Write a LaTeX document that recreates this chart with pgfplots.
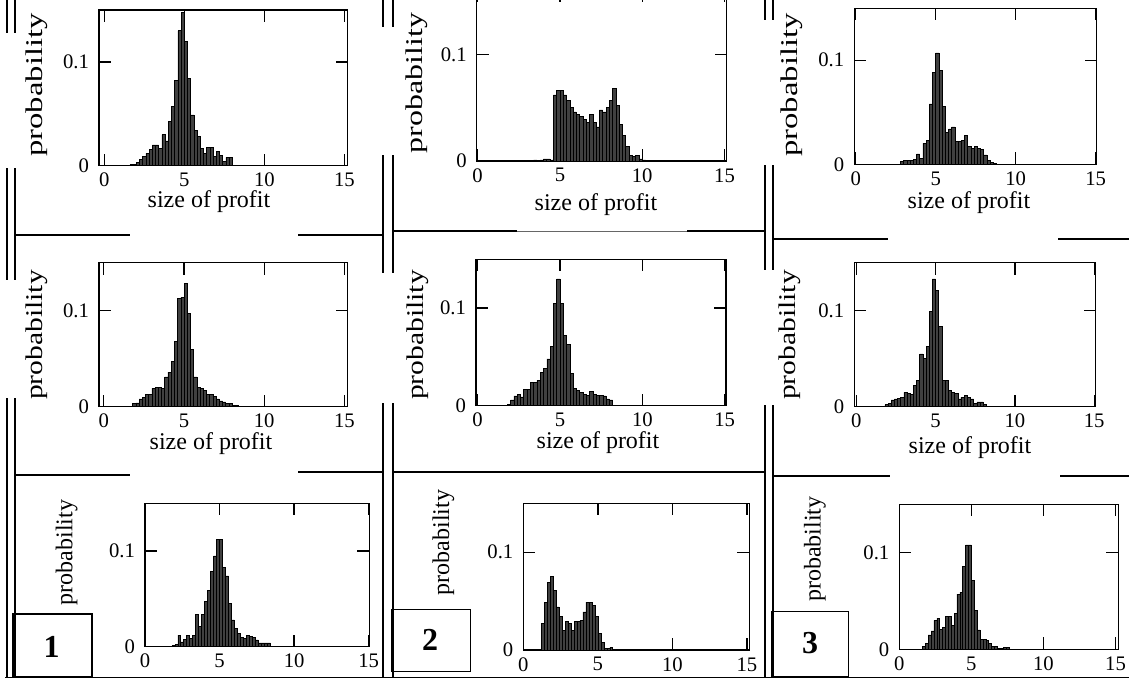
\documentclass[border=0pt]{standalone}
\usepackage{fontspec}
\setmainfont{Liberation Serif}
\usepackage{graphicx}
\usepackage{pgfplots}
\pgfplotsset{compat=1.18}

\pgfplotsset{
  hist/.style={
    scale only axis, anchor=south west,
    xtick={0,5,10,15}, ytick={0,0.1},
    ymin=0, ymax=0.15,
    tick align=inside, major tick length=9pt,
    axis line style={line width=1pt},
    every tick/.style={black, line width=1pt},
    tick label style={font=\fontsize{15.5}{15.5}\selectfont},
    /pgf/number format/assume math mode=true,
    xticklabel style={yshift=-2pt},
    yticklabel style={xshift=-4pt},
  },
  bars/.style={ybar interval, fill=black!75, draw=black, line width=0.45pt},
}
\tikzset{
  lab/.style={font=\fontsize{18}{18}\selectfont, inner sep=0pt},
  sep/.style={line width=2pt},
  dbl/.style={line width=1.2pt},
}

\begin{document}
\begin{tikzpicture}
% ---- row 1 ----
\begin{axis}[hist, at={(74.25pt,-124.3pt)}, width=186.5pt, height=116.8pt, xmin=-0.33, xmax=15.2]
\addplot[bars] coordinates {
(1.6,0.001) (1.8,0.001) (2.0,0.003) (2.2,0.006) (2.4,0.009) (2.6,0.012) (2.8,0.016)
(3.0,0.020) (3.2,0.020) (3.4,0.017) (3.6,0.030) (3.8,0.024) (4.0,0.043) (4.2,0.057)
(4.4,0.082) (4.6,0.130) (4.8,0.148) (5.0,0.120) (5.2,0.084) (5.4,0.049) (5.6,0.034)
(5.8,0.028) (6.0,0.017) (6.2,0.012) (6.4,0.018) (6.6,0.018) (6.8,0.009) (7.0,0.014)
(7.2,0.010) (7.4,0.004) (7.6,0.008) (7.8,0.008) (8.0,0)
};
\end{axis}

% top edge of this box lies above the picture, as in the scan
\begin{axis}[hist, at={(357.5pt,-120.75pt)}, width=187.5pt, height=128pt, xmin=-0.06, xmax=15.13, ymax=0.16]
\addplot[bars] coordinates {
(3.4,0.001) (3.6,0) (3.8,0.001) (4.0,0.002) (4.2,0.002) (4.4,0.001) (4.6,0.062)
(4.8,0.066) (5.0,0.066) (5.2,0.062) (5.4,0.057) (5.6,0.050) (5.8,0.046) (6.0,0.044)
(6.2,0.042) (6.4,0.039) (6.6,0.036) (6.8,0.044) (7.0,0.036) (7.2,0.032) (7.4,0.048)
(7.6,0.046) (7.8,0.050) (8.0,0.057) (8.2,0.068) (8.4,0.052) (8.6,0.034) (8.8,0.024)
(9.0,0.014) (9.2,0.005) (9.4,0.004) (9.6,0.005) (9.8,0.002) (10.0,0.001) (10.2,0)
};
\end{axis}

\begin{axis}[hist, at={(640.7pt,-123.2pt)}, width=181.8pt, height=117pt, xmin=-0.09, xmax=15.06]
\addplot[bars] coordinates {
(2.8,0.003) (3.0,0.004) (3.2,0.004) (3.4,0.004) (3.6,0.005) (3.8,0.010) (4.0,0.006)
(4.2,0.020) (4.4,0.023) (4.6,0.058) (4.8,0.088) (5.0,0.107) (5.2,0.090) (5.4,0.056)
(5.6,0.031) (5.8,0.034) (6.0,0.036) (6.2,0.022) (6.4,0.022) (6.6,0.023) (6.8,0.028)
(7.0,0.017) (7.2,0.015) (7.4,0.017) (7.6,0.015) (7.8,0.014) (8.0,0.009) (8.2,0.004)
(8.4,0.002) (8.6,0.001) (8.8,0)
};
\end{axis}

% ---- row 2 ----
\begin{axis}[hist, at={(74.25pt,-305pt)}, width=186.5pt, height=108pt, xmin=-0.3, xmax=15.2]
\addplot[bars] coordinates {
(1.8,0.003) (2.0,0.004) (2.2,0.008) (2.4,0.010) (2.6,0.013) (2.8,0.013) (3.0,0.019)
(3.2,0.020) (3.4,0.020) (3.6,0.019) (3.8,0.031) (4.0,0.036) (4.2,0.047) (4.4,0.068)
(4.6,0.113) (4.8,0.114) (5.0,0.128) (5.2,0.097) (5.4,0.060) (5.6,0.031) (5.8,0.020)
(6.0,0.019) (6.2,0.017) (6.4,0.013) (6.6,0.013) (6.8,0.011) (7.0,0.008) (7.2,0.006)
(7.4,0.005) (7.6,0.003) (7.8,0.003) (8.0,0.001) (8.2,0.001) (8.4,0)
};
\end{axis}

\begin{axis}[hist, at={(357pt,-304.3pt)}, width=187.5pt, height=109.8pt, xmin=-0.1, xmax=15.08]
\addplot[bars] coordinates {
(1.8,0.001) (2.0,0.006) (2.2,0.010) (2.4,0.012) (2.6,0.009) (2.8,0.017) (3.0,0.017)
(3.2,0.024) (3.4,0.024) (3.6,0.026) (3.8,0.034) (4.0,0.038) (4.2,0.048) (4.4,0.061)
(4.6,0.105) (4.8,0.130) (5.0,0.105) (5.2,0.072) (5.4,0.063) (5.6,0.033) (5.8,0.018)
(6.0,0.016) (6.2,0.014) (6.4,0.012) (6.6,0.011) (6.8,0.015) (7.0,0.012) (7.2,0.011)
(7.4,0.011) (7.6,0.010) (7.8,0.007) (8.0,0.006) (8.2,0)
};
\end{axis}

\begin{axis}[hist, at={(640.7pt,-305pt)}, width=181pt, height=108pt, xmin=-0.13, xmax=15.09]
\addplot[bars] coordinates {
(1.8,0.002) (2.0,0.003) (2.2,0.007) (2.4,0.008) (2.6,0.009) (2.8,0.010) (3.0,0.015)
(3.2,0.014) (3.4,0.013) (3.6,0.022) (3.8,0.027) (4.0,0.055) (4.2,0.050) (4.4,0.063)
(4.6,0.099) (4.8,0.133) (5.0,0.121) (5.2,0.084) (5.4,0.027) (5.6,0.027) (5.8,0.017)
(6.0,0.015) (6.2,0.014) (6.4,0.008) (6.6,0.010) (6.8,0.012) (7.0,0.010) (7.2,0.008)
(7.4,0.003) (7.6,0.005) (7.8,0.005) (8.0,0.002) (8.2,0)
};
\end{axis}

% ---- row 3 ----
\begin{axis}[hist, at={(108.75pt,-485pt)}, width=168.2pt, height=107.6pt, xmin=0, xmax=15.04]
\addplot[bars] coordinates {
(1.8,0.001) (2.0,0.002) (2.2,0.012) (2.4,0.005) (2.6,0.008) (2.8,0.012) (3.0,0.009)
(3.2,0.012) (3.4,0.034) (3.6,0.021) (3.8,0.034) (4.0,0.047) (4.2,0.059) (4.4,0.079)
(4.6,0.095) (4.8,0.112) (5.0,0.112) (5.2,0.083) (5.4,0.074) (5.6,0.045) (5.8,0.028)
(6.0,0.019) (6.2,0.014) (6.4,0.010) (6.6,0.009) (6.8,0.012) (7.0,0.011) (7.2,0.010)
(7.4,0.007) (7.6,0.004) (7.8,0.004) (8.0,0.004) (8.2,0.004) (8.4,0)
};
\end{axis}

\begin{axis}[hist, at={(392.5pt,-487.5pt)}, width=169.5pt, height=110pt, xmin=0, xmax=15.16]
\addplot[bars] coordinates {
(1.2,0.027) (1.4,0.049) (1.6,0.069) (1.8,0.075) (2.0,0.061) (2.2,0.044) (2.4,0.034)
(2.6,0.020) (2.8,0.029) (3.0,0.027) (3.2,0.020) (3.4,0.029) (3.6,0.029) (3.8,0.030)
(4.0,0.039) (4.2,0.049) (4.4,0.049) (4.6,0.046) (4.8,0.034) (5.0,0.017) (5.2,0.008)
(5.4,0.002) (5.6,0.002) (5.8,0.003) (6.0,0) (6.2,0.001) (6.4,0.001) (6.6,0)
};
\end{axis}

\begin{axis}[hist, at={(674.5pt,-487pt)}, width=164.3pt, height=108.8pt, xmin=0, xmax=15.2]
\addplot[bars] coordinates {
(1.6,0.003) (1.8,0.006) (2.0,0.015) (2.2,0.019) (2.4,0.030) (2.6,0.032) (2.8,0.021)
(3.0,0.023) (3.2,0.034) (3.4,0.034) (3.6,0.025) (3.8,0.037) (4.0,0.057) (4.2,0.059)
(4.4,0.086) (4.6,0.108) (4.8,0.108) (5.0,0.071) (5.2,0.040) (5.4,0.020) (5.6,0.010)
(5.8,0.010) (6.0,0.009) (6.2,0.006) (6.4,0.003) (6.6,0.003) (6.8,0.001) (7.0,0.001)
(7.2,0.002) (7.4,0.002) (7.6,0)
};
\end{axis}

% pixel units from here on (1 px = 0.75 pt, y downwards)
\begin{scope}[x=0.75pt, y=-0.75pt]
% ---- axis labels ----
\node[lab] at (209,202) {size of profit};
\node[lab] at (596,205) {size of profit};
\node[lab] at (969,203) {size of profit};
\node[lab] at (211,443.5) {size of profit};
\node[lab] at (598,442.5) {size of profit};
\node[lab] at (970,448) {size of profit};
\node[lab, rotate=90] at (37,85) {\scalebox{1.36}[1]{probability}};
\node[lab, rotate=90] at (416.7,83) {\scalebox{1.33}[1]{probability}};
\node[lab, rotate=90] at (791.7,85) {\scalebox{1.36}[1]{probability}};
\node[lab, rotate=90] at (36.7,335) {\scalebox{1.23}[1]{probability}};
\node[lab, rotate=90] at (418,335) {\scalebox{1.23}[1]{probability}};
\node[lab, rotate=90] at (790,335) {\scalebox{1.23}[1]{probability}};
\node[lab, rotate=90] at (66.7,552.5) {probability};
\node[lab, rotate=90] at (443.3,542.5) {probability};
\node[lab, rotate=90] at (815,549) {probability};

% ---- frame pieces ----
\draw[dbl] (7,0)--(7,33) (15,0)--(15,33) (7,168)--(7,280) (15,168)--(15,280)
           (7,398)--(7,678) (15,398)--(15,678);
\draw[dbl] (383,0)--(383,27) (393,0)--(393,27) (383,155)--(383,273) (393,155)--(393,273)
           (383,403)--(383,678) (393,403)--(393,678);
\draw[dbl] (765,0)--(765,20) (773,0)--(773,20) (765,165)--(765,270) (773,165)--(773,270)
           (765,405)--(765,678) (773,405)--(773,678);
\draw[sep] (15,235)--(130,235) (298,235)--(383,235)
           (393,231)--(517,231) (687,231)--(765,231)
           (773,239)--(888,239) (1058,239)--(1129,239);
\draw[line width=0.6pt, black!60] (517,231)--(687,231);
\draw[sep] (15,475)--(130,475) (298,472)--(383,472)
           (393,472)--(765,472)
           (773,476)--(890,476) (1060,476)--(1129,476);
\draw[line width=0.6pt] (5,677)--(1129,677);

% ---- panel numbers ----
\draw[line width=0.8pt] (13,614) rectangle (92,677);
\draw[line width=0.8pt] (391.7,609.3) rectangle (470.7,671.7);
\draw[line width=0.8pt] (771.7,611.7) rectangle (848.3,677);
\node[font=\fontsize{24}{24}\selectfont\bfseries] at (51.7,646.7) {1};
\node[font=\fontsize{24}{24}\selectfont\bfseries] at (430,640) {2};
\node[font=\fontsize{24}{24}\selectfont\bfseries] at (810,643.3) {3};

% the page is exactly the scanned area
\pgfresetboundingbox
\useasboundingbox (0,0) rectangle (1129,678);
\end{scope}
\end{tikzpicture}
\end{document}
